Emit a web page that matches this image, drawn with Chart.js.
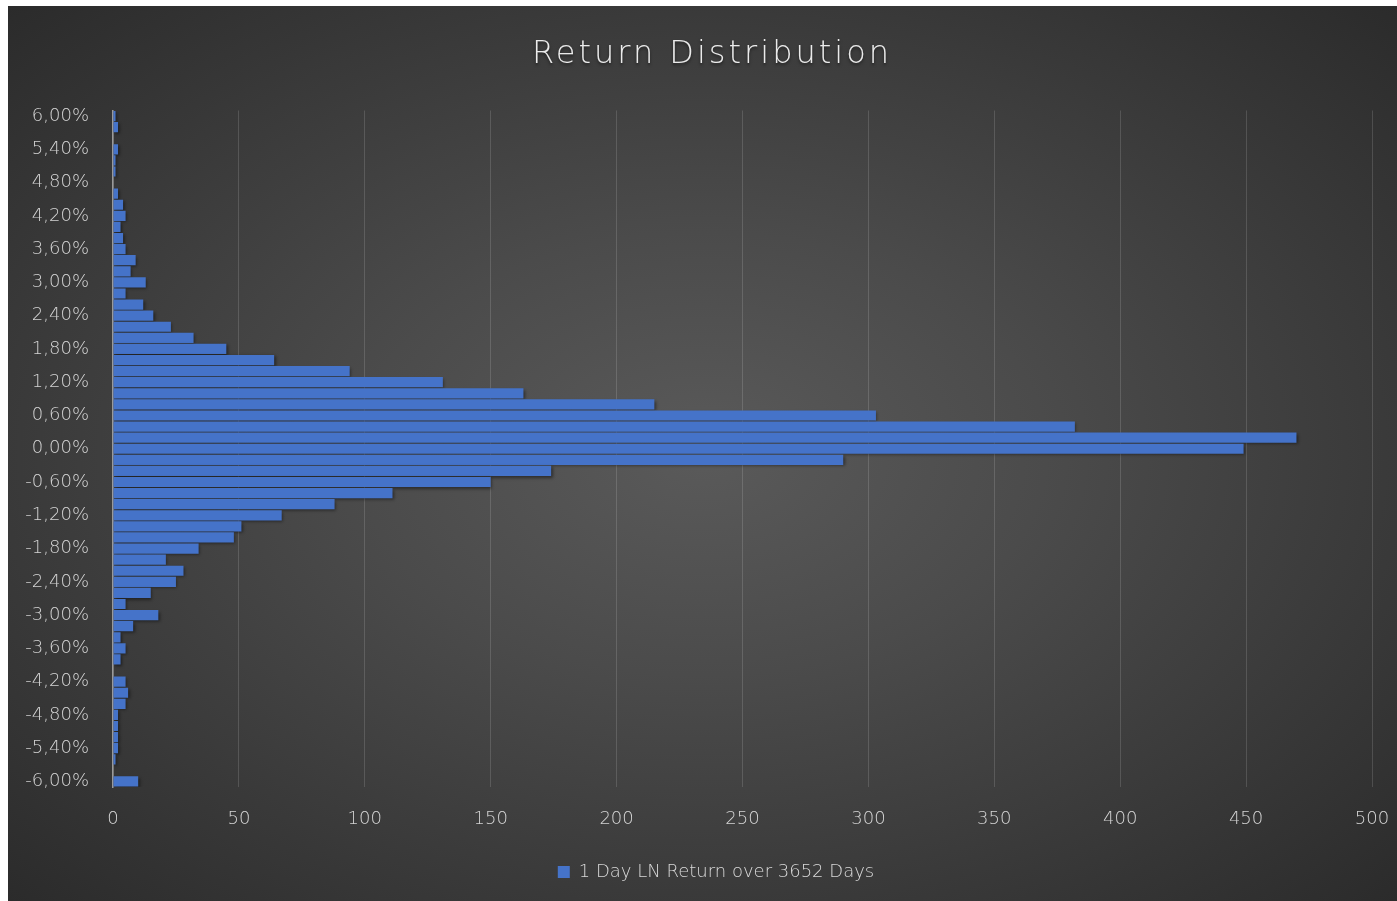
<!DOCTYPE html>
<html>
<head>
<meta charset="utf-8">
<script src="https://cdn.jsdelivr.net/npm/chart.js@4"></script>
<style>
    html, body { margin: 0; padding: 0; background: #ffffff; }
    #wrap {
        position: absolute; left: 8px; top: 6px; width: 1389px; height: 895px;
        background: radial-gradient(ellipse farthest-corner at 50% 50%, #5a5a5a 0%, #4b4b4b 35%, #2b2b2b 100%);
    }
</style>
</head>
<body>
<div id="wrap"><canvas id="barChart"></canvas></div>
<script>
// return bins, top to bottom (percent)
var bins = [
    6.0, 5.8, 5.6, 5.4, 5.2, 5.0, 4.8, 4.6, 4.4, 4.2,
    4.0, 3.8, 3.6, 3.4, 3.2, 3.0, 2.8, 2.6, 2.4, 2.2,
    2.0, 1.8, 1.6, 1.4, 1.2, 1.0, 0.8, 0.6, 0.4, 0.2,
    0.0, -0.2, -0.4, -0.6, -0.8, -1.0, -1.2, -1.4, -1.6, -1.8,
    -2.0, -2.2, -2.4, -2.6, -2.8, -3.0, -3.2, -3.4, -3.6, -3.8,
    -4.0, -4.2, -4.4, -4.6, -4.8, -5.0, -5.2, -5.4, -5.6, -5.8,
    -6.0
];

// number of days in each bin
var counts = [
    1, 2, 0, 2, 1, 1, 0, 2, 4, 5,
    3, 4, 5, 9, 7, 13, 5, 12, 16, 23,
    32, 45, 64, 94, 131, 163, 215, 303, 382, 470,
    449, 290, 174, 150, 111, 88, 67, 51, 48, 34,
    21, 28, 25, 15, 5, 18, 8, 3, 5, 3,
    0, 5, 6, 5, 2, 2, 2, 2, 1, 0,
    10
];

var xTicks = [0, 50, 100, 150, 200, 250, 300, 350, 400, 450, 500];

var chartTitle = 'Return Distribution';
var seriesName = '1 Day LN Return over 3652 Days';

var binLabels = bins.map(function(b) {
    return b.toFixed(2).replace('.', ',') + '%';
});

var fontFam = "'DejaVu Sans', sans-serif";

// bars get a small drop shadow like the original
var barShadow = {
    id: 'barShadow',
    beforeDatasetsDraw: function(chart) {
        var ctx = chart.ctx;
        ctx.save();
        ctx.shadowColor = 'rgba(0,0,0,0.45)';
        ctx.shadowBlur = 3;
        ctx.shadowOffsetX = 1.5;
        ctx.shadowOffsetY = 1.5;
    },
    afterDatasetsDraw: function(chart) {
        chart.ctx.restore();
    }
};

// spaced-out title (Chart.js title has no letter spacing)
var spacedTitle = {
    id: 'spacedTitle',
    afterLayout: function(chart) {
        // Excel centres the legend on the whole frame, not the plot
        chart.legend.left += 26;
        chart.legend.right += 26;
    },
    afterDraw: function(chart) {
        var ctx = chart.ctx;
        ctx.save();
        ctx.letterSpacing = '3px';
        ctx.font = "200 32px " + fontFam;
        ctx.fillStyle = '#ebebeb';
        ctx.textAlign = 'center';
        ctx.textBaseline = 'middle';
        ctx.shadowColor = 'rgba(0,0,0,0.5)';
        ctx.shadowBlur = 3;
        ctx.shadowOffsetY = 1.5;
        ctx.fillText(chartTitle, 704, 49);
        ctx.restore();
    }
};

var config = {
    type: 'bar',
    data: {
        labels: binLabels,
        datasets: [{
            label: seriesName,
            data: counts,
            backgroundColor: '#4573c9',
            borderWidth: 0,
            barPercentage: 0.92,
            categoryPercentage: 1.0
        }]
    },
    options: {
        indexAxis: 'y',
        responsive: true,
        maintainAspectRatio: false,
        animation: false,
        layout: {
            padding: { left: 0, right: 25, top: 104.5, bottom: 10 }
        },
        plugins: {
            title: { display: false },
            legend: {
                position: 'bottom',
                labels: {
                    color: '#d9d9d9',
                    boxWidth: 12,
                    boxHeight: 12,
                    padding: 10,
                    font: { family: fontFam, size: 18, weight: '300' }
                }
            },
            tooltip: { enabled: false }
        },
        scales: {
            x: {
                min: 0,
                max: 500,
                afterBuildTicks: function(scale) {
                    scale.ticks = xTicks.map(function(v) { return { value: v }; });
                },
                afterFit: function(scale) { scale.height = 66; },
                grid: {
                    color: 'rgba(255,255,255,0.14)',
                    lineWidth: 1,
                    drawTicks: true,
                    tickLength: 22,
                    tickColor: 'rgba(0,0,0,0)'
                },
                border: { display: false },
                ticks: {
                    color: '#d4d4d4',
                    padding: 0,
                    font: { family: fontFam, size: 18, weight: '300' }
                }
            },
            y: {
                afterFit: function(scale) { scale.width = 105; },
                grid: { display: false, drawTicks: false },
                border: { display: true, color: '#9a9a9a', width: 1.5 },
                ticks: {
                    autoSkip: false,
                    color: '#d4d4d4',
                    padding: 24,
                    font: { family: fontFam, size: 18, weight: '300' },
                    callback: function(val, i) {
                        return i % 3 === 0 ? this.getLabelForValue(val) : '';
                    }
                }
            }
        }
    },
    plugins: [barShadow, spacedTitle]
};

window.onload = function() {
    var ctx = document.getElementById('barChart').getContext('2d');
    window.myBar = new Chart(ctx, config);
};
</script>
</body>
</html>
